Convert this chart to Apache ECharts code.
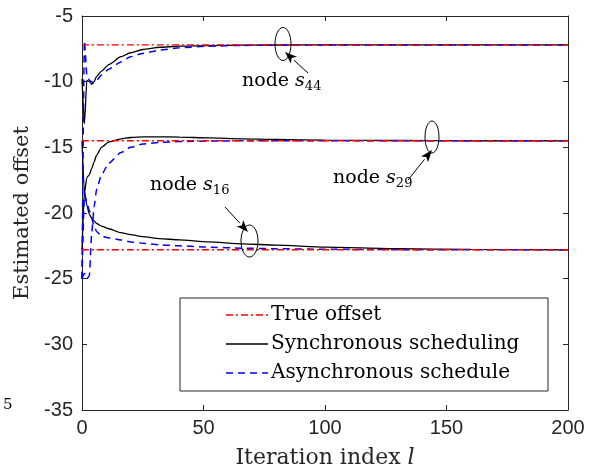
<!DOCTYPE html>
<html>
<head>
<meta charset="utf-8">
<script src="https://cdn.jsdelivr.net/npm/echarts@6/dist/echarts.min.js"></script>
<style>
  html, body { margin: 0; padding: 0; background: #fff; }
  #chart { width: 591px; height: 470px; }
</style>
</head>
<body>
<div id="chart"></div>
<script>
  const iters = [0, 1, 2, 3, 4, 5, 6, 8, 11, 16, 20, 25, 32, 40, 52, 66, 80, 100, 130, 160, 200];

  // true offsets of the three nodes
  const trueS44 = -7.2;
  const trueS29 = -14.5;
  const trueS16 = -22.8;

  // synchronous scheduling
  const syncS44 = [-9.8, -13.2, -9.9, -10.0, -10.2, -10.0, -9.6, -9.2, -8.7, -8.1, -7.8, -7.55, -7.38, -7.3, -7.25, -7.22, -7.21, -7.2, -7.2, -7.2, -7.2];
  const syncS29 = [-14.5, -18.5, -17.3, -17.1, -16.6, -16.1, -15.6, -15.0, -14.6, -14.35, -14.25, -14.2, -14.2, -14.22, -14.28, -14.35, -14.4, -14.45, -14.48, -14.5, -14.5];
  const syncS16 = [-22.8, -18.3, -19.4, -20.1, -20.4, -20.6, -20.8, -21.0, -21.2, -21.5, -21.65, -21.8, -21.95, -22.05, -22.2, -22.35, -22.45, -22.6, -22.72, -22.77, -22.8];

  // asynchronous schedule
  const asyncS44 = [-25, -6.9, -9.5, -9.9, -10.0, -10.1, -9.9, -9.5, -9.05, -8.5, -8.1, -7.85, -7.6, -7.42, -7.3, -7.24, -7.22, -7.2, -7.2, -7.2, -7.2];
  const asyncS29 = [-25, -24.6, -25, -24.8, -21.5, -19.5, -18.2, -17.1, -16.2, -15.4, -15.0, -14.75, -14.62, -14.56, -14.52, -14.5, -14.5, -14.5, -14.5, -14.5, -14.5];
  const asyncS16 = [-25, -18.6, -19.2, -19.8, -20.4, -21.0, -21.4, -21.75, -21.9, -22.05, -22.2, -22.3, -22.42, -22.5, -22.6, -22.68, -22.72, -22.76, -22.79, -22.8, -22.8];

  const xTicks = [0, 50, 100, 150, 200];
  const yTicks = [-35, -30, -25, -20, -15, -10, -5];

  const legendNames = ['True offset', 'Synchronous scheduling', 'Asynchronous schedule'];

  const serif = '"DejaVu Serif", serif';
  const axisColor = '#262626';

  const pairs = (ys) => iters.map((x, k) => [x, ys[k]]);
  const flat = (v) => [[xTicks[0], v], [xTicks[xTicks.length - 1], v]];

  const syncStyle = { color: '#000000', width: 1.3, type: 'solid' };
  const asyncStyle = { color: '#0000ff', width: 1.5, type: [7, 5] };
  const trueStyle = { color: '#ff0000', width: 1.4, type: [7, 3, 2, 3] };

  function line(name, data, style) {
    return {
      name,
      type: 'line',
      data,
      symbol: 'none',
      smooth: 0.2,
      smoothMonotone: 'x',
      lineStyle: style,
      itemStyle: { color: style.color },
      z: 2,
      silent: true,
    };
  }

  const series = [
    line(legendNames[1], pairs(syncS44), syncStyle),
    line(legendNames[1], pairs(syncS29), syncStyle),
    line(legendNames[1], pairs(syncS16), syncStyle),
    line(legendNames[2], pairs(asyncS44), asyncStyle),
    line(legendNames[2], pairs(asyncS29), asyncStyle),
    line(legendNames[2], pairs(asyncS16), asyncStyle),
    line(legendNames[0], flat(trueS44), trueStyle),
    line(legendNames[0], flat(trueS29), trueStyle),
    line(legendNames[0], flat(trueS16), trueStyle),
  ];

  function arrow(x1, y1, x2, y2) {
    const a = Math.atan2(y2 - y1, x2 - x1);
    const c = Math.cos(a), s = Math.sin(a);
    const L = 12, W = 4.5;
    const bx = x2 - L * c, by = y2 - L * s;
    return [
      { type: 'line', shape: { x1, y1, x2: bx, y2: by }, style: { stroke: '#000', lineWidth: 1 }, z: 10 },
      { type: 'polygon', shape: { points: [[x2, y2], [bx - s * W, by + c * W], [bx + 3 * c, by + 3 * s], [bx + s * W, by - c * W]] }, style: { fill: '#000' }, z: 10 },
    ];
  }

  function ellipse(cx, cy, rx, ry) {
    return { type: 'ellipse', shape: { cx, cy, rx, ry }, style: { stroke: '#000', fill: null, lineWidth: 1 }, z: 10 };
  }

  function nodeLabel(x, y, sub) {
    return {
      type: 'text',
      x, y,
      z: 10,
      style: {
        text: '{n|node }{s|s}{d|' + sub + '}',
        verticalAlign: 'middle',
        rich: {
          n: { fontFamily: serif, fontSize: 19, color: '#000' },
          s: { fontFamily: serif, fontSize: 19, fontStyle: 'italic', color: '#000' },
          d: { fontFamily: serif, fontSize: 13, color: '#000', padding: [11, 0, 0, 0] },
        },
      },
    };
  }

  // legend box drawn by hand so the dash-dot sample matches
  const legend = [
    { type: 'rect', shape: { x: 180, y: 298, width: 368, height: 93 }, style: { fill: '#fff', stroke: axisColor, lineWidth: 1 }, z: 20 },
  ];
  [trueStyle, syncStyle, asyncStyle].forEach((st, k) => {
    const y = 315 + k * 29;
    legend.push({ type: 'line', shape: { x1: 226, y1: y, x2: 268, y2: y }, style: { stroke: st.color, lineWidth: st.width, lineDash: st.type === 'solid' ? null : st.type }, z: 21 });
    legend.push({ type: 'text', x: 271, y, style: { text: legendNames[k], font: '20px ' + serif, fill: '#000', verticalAlign: 'middle' }, z: 21 });
  });

  const graphics = [].concat(
    ellipse(283, 44, 8, 16.5),
    ellipse(432, 137, 7, 16),
    ellipse(249.5, 241, 8.5, 16),
    arrow(308, 73, 285, 52),
    arrow(408, 180, 432, 150),
    arrow(225, 207, 248, 232),
    nodeLabel(242, 81, '44'),
    nodeLabel(333, 178, '29'),
    nodeLabel(150, 185, '16'),
    legend,
    [{ type: 'text', x: 3, y: 405, style: { text: '5', font: '15px ' + serif, fill: '#000', verticalAlign: 'middle' } }]
  );

  const tickLabel = { fontFamily: '"Liberation Sans", Arial, sans-serif', fontSize: 20, color: axisColor };

  const chart = echarts.init(document.getElementById('chart'), null, { renderer: 'canvas' });
  chart.setOption({
    animation: false,
    backgroundColor: '#fff',
    grid: { left: 82, right: 23, top: 16, bottom: 60, containLabel: false, outerBoundsMode: 'none' },
    xAxis: [
      {
        type: 'value', min: xTicks[0], max: xTicks[xTicks.length - 1], interval: 50,
        name: '{n|Iteration index }{i|l}', nameLocation: 'middle', nameGap: 37,
        nameTextStyle: { rich: { n: { fontFamily: serif, fontSize: 22, color: axisColor }, i: { fontFamily: serif, fontSize: 22, fontStyle: 'italic', color: axisColor } } },
        axisLine: { show: true, lineStyle: { color: axisColor, width: 1 } },
        axisTick: { show: true, inside: true, length: 5, lineStyle: { color: axisColor } },
        axisLabel: Object.assign({ margin: 8 }, tickLabel),
        splitLine: { show: false },
      },
      {
        type: 'value', position: 'top', min: xTicks[0], max: xTicks[xTicks.length - 1], interval: 50,
        axisLine: { show: true, onZero: false, lineStyle: { color: axisColor, width: 1 } },
        axisTick: { show: true, inside: true, length: 5, lineStyle: { color: axisColor } },
        axisLabel: { show: false },
        splitLine: { show: false },
      },
    ],
    yAxis: [
      {
        type: 'value', min: yTicks[0], max: yTicks[yTicks.length - 1], interval: 5,
        name: 'Estimated offset', nameLocation: 'middle', nameGap: 48,
        nameTextStyle: { fontFamily: serif, fontSize: 21, color: axisColor },
        axisLine: { show: true, onZero: false, lineStyle: { color: axisColor, width: 1 } },
        axisTick: { show: true, inside: true, length: 5, lineStyle: { color: axisColor } },
        axisLabel: Object.assign({ margin: 9 }, tickLabel),
        splitLine: { show: false },
      },
      {
        type: 'value', position: 'right', min: yTicks[0], max: yTicks[yTicks.length - 1], interval: 5,
        axisLine: { show: true, onZero: false, lineStyle: { color: axisColor, width: 1 } },
        axisTick: { show: true, inside: true, length: 5, lineStyle: { color: axisColor } },
        axisLabel: { show: false },
        splitLine: { show: false },
      },
    ],
    series,
    graphic: graphics,
  });
</script>
</body>
</html>
